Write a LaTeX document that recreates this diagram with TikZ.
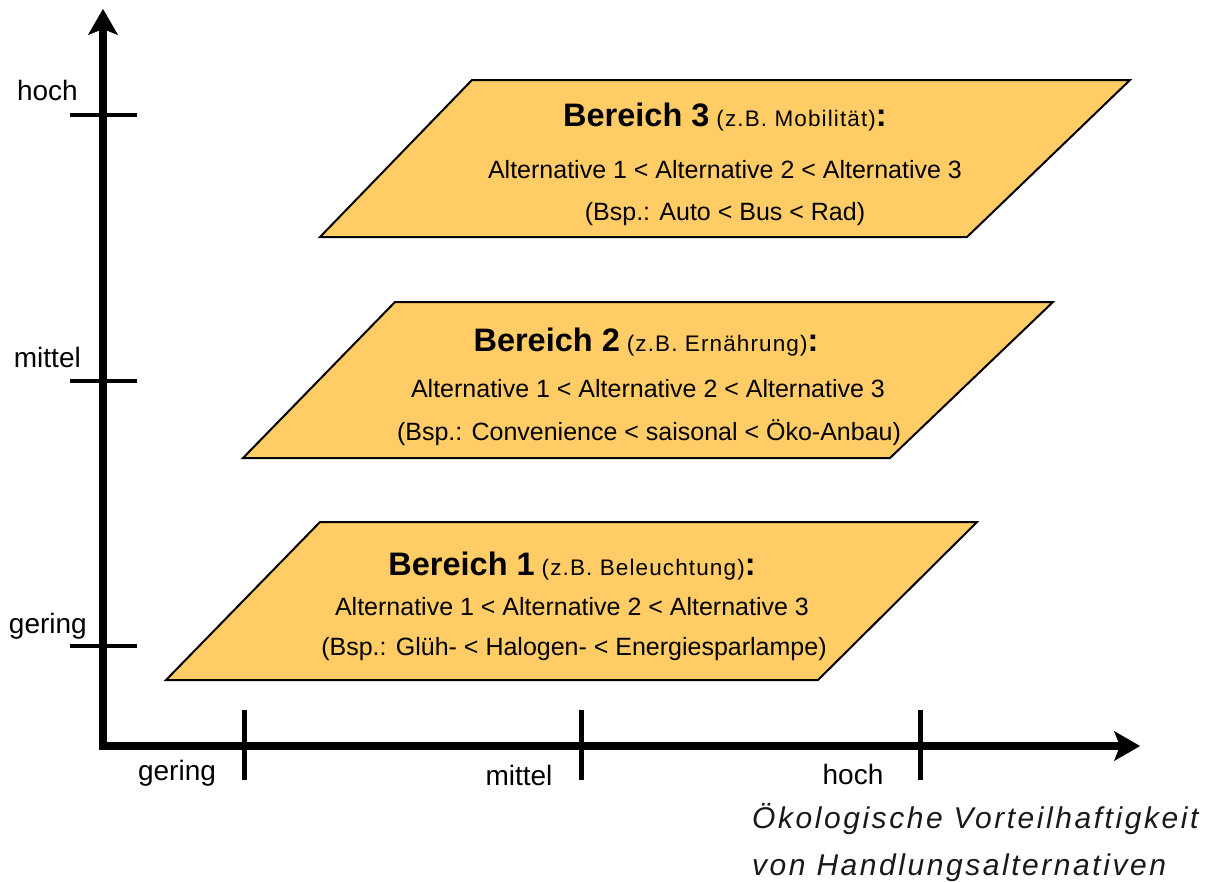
\documentclass[tikz,border=0pt]{standalone}
\usepackage{fontspec}
\setmainfont{Liberation Sans}
\newfontfamily\spaced[LetterSpace=5]{Liberation Sans}
\newfontfamily\spacedit[LetterSpace=8.5]{Liberation Sans}
\usetikzlibrary{arrows.meta}
\definecolor{plateorange}{RGB}{255,204,102}
\tikzset{
  plate/.style={draw=black, line width=2pt, fill=plateorange, line join=miter},
  axisline/.style={line width=8pt, line join=miter, >={Stealth[length=26pt, width=30pt, inset=6pt, line width=0.5pt]}},
  ytickline/.style={line width=4pt},
  xtickline/.style={line width=5pt},
  body/.style={font=\fontsize{25}{30}\selectfont, inner sep=0pt, anchor=base},
  lab/.style={font=\fontsize{28}{32}\selectfont, inner sep=0pt},
  axtitle/.style={font=\spacedit\itshape\fontsize{30}{34}\selectfont, inner sep=0pt, anchor=base west, text=black!90}
}
\newcommand{\bigB}[1]{{\fontsize{32.5}{36}\selectfont\bfseries #1}}
\newcommand{\smallP}[1]{{\spaced\fontsize{22.5}{26}\selectfont #1}}
\begin{document}
\begin{tikzpicture}[x=1pt,y=-1pt]
\useasboundingbox (0,0) rectangle (1218,881);

% plates
\draw[plate] (320,522) -- (977,522) -- (818,680) -- (166,680) -- cycle;
\draw[plate] (395,302) -- (1053,302) -- (890,458) -- (243,458) -- cycle;
\draw[plate] (472,80) -- (1130,80) -- (967,237) -- (320,237) -- cycle;

% plate texts
\node[body] (t1) at (572,575) {\bigB{Bereich 1} \smallP{(z.B. Beleuchtung)}\bigB{:}};
\node[body] (a1) at (572,615) {Alternative 1 < Alternative 2 < Alternative 3};
\node[body] (e1) at (574,655) {(Bsp.: Glüh- < Halogen- < Energiesparlampe)};

\node[body] (t2) at (646,351) {\bigB{Bereich 2} \smallP{(z.B. Ernährung)}\bigB{:}};
\node[body] (a2) at (648,397) {Alternative 1 < Alternative 2 < Alternative 3};
\node[body] (e2) at (649,440) {(Bsp.: Convenience < saisonal < Öko-Anbau)};

\node[body] (t3) at (725,126) {\bigB{Bereich 3} \smallP{(z.B. Mobilität)}\bigB{:}};
\node[body] (a3) at (725,178) {Alternative 1 < Alternative 2 < Alternative 3};
\node[body] (e3) at (725,220) {(Bsp.: Auto < Bus < Rad)};

% axes
\coordinate (origin) at (103,746);
\coordinate (ytop) at (103,9);
\coordinate (xend) at (1140,746);
\draw[axisline, <->] (ytop) -- (origin) -- (xend);

% y ticks
\draw[ytickline] (70,115) -- (137,115);
\draw[ytickline] (70,381) -- (137,381);
\draw[ytickline] (70,646) -- (137,646);
% x ticks
\draw[xtickline] (244,710) -- (244,780);
\draw[xtickline] (581,710) -- (581,780);
\draw[xtickline] (920,710) -- (920,780);

% y labels
\node[lab, anchor=base east] (yh) at (78,100) {hoch};
\node[lab, anchor=base east] (ym) at (81,367) {mittel};
\node[lab, anchor=base east] (yg) at (87,633) {gering};
% x labels
\node[lab, anchor=base] (xg) at (177,780) {gering};
\node[lab, anchor=base] (xm) at (519,785) {mittel};
\node[lab, anchor=base] (xh) at (853,784) {hoch};

% axis title
\node[axtitle] (ti1) at (752,828) {Ökologische Vorteilhaftigkeit};
\node[axtitle] (ti2) at (752,875) {von Handlungsalternativen};
\end{tikzpicture}
\end{document}
